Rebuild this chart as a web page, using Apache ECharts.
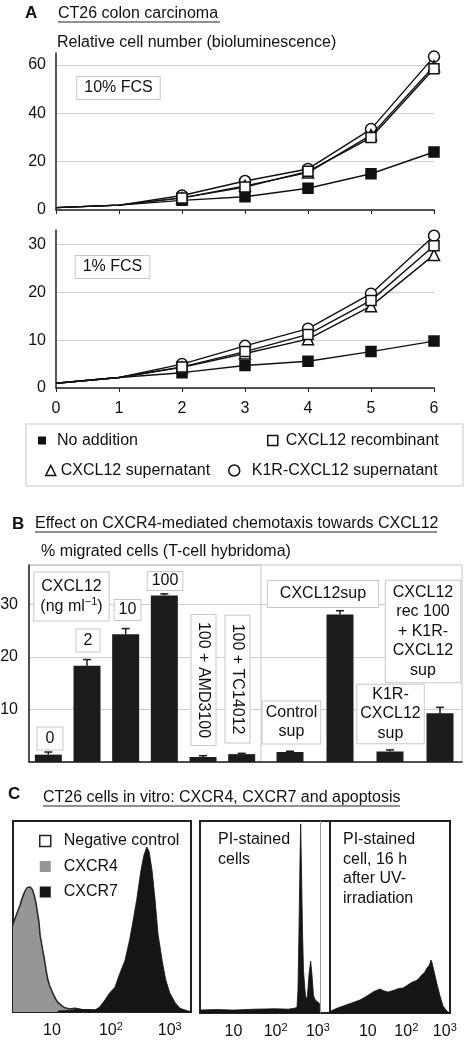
<!DOCTYPE html>
<html><head><meta charset="utf-8">
<script src="https://cdn.jsdelivr.net/npm/echarts@6/dist/echarts.min.js"></script>
<style>html,body{margin:0;padding:0;background:#fff}#c{width:470px;height:1040px}</style>
</head><body><div id="c"></div>
<script>
// ---------- DATA ----------
const days = [0, 1, 2, 3, 4, 5, 6];
// Panel A, 10% FCS
const fcs10NoAddition = [1, 2, 4, 5.5, 9, 15, 24];
const fcs10Recombinant = [1, 2, 5, 9.5, 16, 30, 58.5];
const fcs10Supernatant = [1, 2, 5, 10, 15.5, 31, 59.5];
const fcs10K1R = [1, 2, 6, 12, 17, 33.5, 63.5];
// Panel A, 1% FCS
const fcs1NoAddition = [1, 2.2, 3.2, 4.7, 5.6, 7.6, 9.8];
const fcs1Recombinant = [1, 2.2, 4.4, 7.6, 11.2, 18.3, 29.7];
const fcs1Supernatant = [1, 2.2, 4.3, 7.2, 10.2, 17.1, 27.8];
const fcs1K1R = [1, 2.2, 5, 8.8, 12.4, 19.7, 31.8];
const seriesNames = ['No addition', 'CXCL12 recombinant', 'CXCL12 supernatant', 'K1R-CXCL12 supernatant'];

// Panel B
const bLeftCats = ['0', '2', '10', '100', '100 + AMD3100', '100 + TC14012'];
const bLeftValues = [1.4, 18.3, 24.3, 31.7, 0.95, 1.5];
const bLeftErr = [0.5, 1.2, 1.1, 0.3, 0.25, 0.15];
const bRightCats = ['Control sup', 'CXCL12sup', 'K1R-CXCL12 sup', 'CXCL12 rec 100 + K1R-CXCL12 sup'];
const bRightValues = [1.9, 28.1, 2.0, 9.3];
const bRightErr = [0.15, 0.7, 0.3, 1.1];

// Panel C (x = log10 fluorescence, y = relative count)
const negControl = [[0.34,46],[0.40,51],[0.46,56],[0.50,60],[0.54,63],[0.58,65],[0.63,65.5],[0.67,64],[0.70,61],[0.73,57],[0.75,53],[0.78,47],[0.80,40],[0.84,33],[0.87,28],[0.90,22],[0.93,17],[0.97,13],[1.02,9.5],[1.06,7],[1.10,5],[1.16,3.5],[1.22,2.2],[1.30,1.6],[1.39,2],[1.50,1.3],[1.65,1.2],[1.81,0.8],[2.0,0.5],[2.3,0.2]];
const cxcr4 = [[0.34,44.5],[0.40,50],[0.46,55],[0.50,59],[0.54,62],[0.58,64],[0.63,65],[0.67,63],[0.70,60],[0.73,56],[0.75,52],[0.78,45],[0.80,38],[0.84,31],[0.87,27],[0.90,21],[0.93,16],[0.97,12],[1.02,9],[1.06,7],[1.10,5],[1.16,3.5],[1.22,2],[1.30,1.5],[1.39,1.8],[1.50,1.2],[1.65,1],[1.81,0.5],[2.0,0.2],[2.3,0]];
const cxcr7 = [[1.10,0.5],[1.30,0.8],[1.45,1.5],[1.55,1],[1.73,1],[1.81,2.6],[1.90,6.3],[1.98,10],[2.07,13],[2.15,20],[2.24,27],[2.32,38],[2.39,50],[2.44,59],[2.51,74],[2.56,82],[2.61,86.4],[2.65,84],[2.70,74],[2.75,59],[2.80,41],[2.87,27],[2.93,17],[3.00,10],[3.09,5],[3.17,2],[3.31,0.5],[3.36,0.3]];
const piCells = [[0.21,1.5],[0.6,1.8],[1.0,1.5],[1.5,2],[2.0,2.2],[2.3,2],[2.45,2.5],[2.506,3],[2.529,12],[2.553,43],[2.577,80],[2.593,98.5],[2.612,75],[2.636,43],[2.660,22],[2.695,12],[2.719,7],[2.754,9],[2.790,20],[2.830,27],[2.861,20],[2.897,9],[2.932,7],[2.980,6],[3.039,5],[3.048,4],[3.05,0]];
const piGate = 3.05;
const piUV = [[0.02,0.8],[0.07,1.5],[0.2,2.5],[0.356,3.6],[0.55,5],[0.797,6.8],[0.95,8.5],[1.135,10.9],[1.25,12],[1.317,12.5],[1.42,11.5],[1.525,10.9],[1.62,11.5],[1.706,12],[1.80,12.8],[1.914,13],[2.03,14.5],[2.148,16],[2.278,17],[2.35,18.5],[2.408,20],[2.47,21],[2.538,23.4],[2.60,25],[2.642,27.6],[2.67,26],[2.694,25],[2.74,20],[2.790,15.6],[2.875,8.9],[2.953,3.6],[3.031,1.6],[3.083,0.5],[3.135,0.2]];
const cTickValues = [1, 2, 3];
const cTickLabels = ['10', '10{sup|2}', '10{sup|3}'];

// ---------- CHART ----------
const FONT = '"Liberation Sans", Arial, Helvetica, sans-serif';
const INK = '#111';
const chart = echarts.init(document.getElementById('c'), null, {renderer: 'canvas'});

function fnt(size, bold) { return (bold ? 'bold ' : '') + size + 'px ' + FONT; }

const markerStyles = [
  {symbol: 'rect', size: 10, fill: INK},
  {symbol: 'rect', size: 10, fill: '#fff'},
  {symbol: 'triangle', size: 11, fill: '#fff'},
  {symbol: 'circle', size: 11, fill: '#fff'}
];
function growthSeries(idx, values, grid, z) {
  const m = markerStyles[idx];
  return {
    type: 'line', name: seriesNames[idx], xAxisIndex: grid, yAxisIndex: grid, z: z,
    data: days.map((d, i) => i < 2 ? {value: [d, values[i]], symbol: 'none'} : [d, values[i]]),
    symbol: m.symbol, symbolSize: m.size, showSymbol: true,
    itemStyle: {color: m.fill, borderColor: INK, borderWidth: 1.5},
    lineStyle: {color: INK, width: 1.4},
    emphasis: {disabled: true}, animation: false
  };
}

function errRender(params, api) {
  const i = api.value(0), v = api.value(1), e = api.value(2);
  const p0 = api.coord([i, v]);
  const p1 = api.coord([i, v + e]);
  return {type: 'group', children: [
    {type: 'line', shape: {x1: p0[0], y1: p0[1], x2: p1[0], y2: p1[1]}, style: {stroke: '#1a1a1a', lineWidth: 1.5}},
    {type: 'line', shape: {x1: p1[0] - 4, y1: p1[1], x2: p1[0] + 4, y2: p1[1]}, style: {stroke: '#1a1a1a', lineWidth: 1.5}}
  ]};
}

const gridBase = {outerBoundsMode: 'none', containLabel: false};
const grids = [
  Object.assign({left: 56, top: 53, width: 378, height: 157}, gridBase),
  Object.assign({left: 56, top: 230, width: 378, height: 158}, gridBase),
  Object.assign({left: 29, top: 565, width: 433, height: 197, show: true, borderColor: '#c4c4c4', borderWidth: 1}, gridBase),
  Object.assign({left: 29, top: 565, width: 232, height: 197, show: true, borderColor: '#c4c4c4', borderWidth: 1}, gridBase),
  Object.assign({left: 265, top: 565, width: 200, height: 197}, gridBase),
  Object.assign({left: 13, top: 821, width: 178, height: 191, show: true, borderColor: '#222', borderWidth: 2}, gridBase),
  Object.assign({left: 200, top: 821, width: 130, height: 192, show: true, borderColor: '#222', borderWidth: 2}, gridBase),
  Object.assign({left: 330, top: 821, width: 120, height: 192, show: true, borderColor: '#222', borderWidth: 2}, gridBase)
];

const lbl = {color: INK, fontSize: 16, fontFamily: FONT};
const gridLine = {show: true, showMaxLine: false, lineStyle: {color: '#cfcfcf', width: 1}};

const xAxes = [
  {gridIndex: 0, type: 'value', min: 0, max: 6, interval: 1, axisLine: {lineStyle: {color: '#222', width: 1.5}},
   axisTick: {show: true, length: 4, lineStyle: {color: '#222'}}, axisLabel: {show: false}, splitLine: {show: false}},
  {gridIndex: 1, type: 'value', min: 0, max: 6, interval: 1, axisLine: {lineStyle: {color: '#222', width: 1.5}},
   axisTick: {show: true, length: 4, lineStyle: {color: '#222'}}, axisLabel: Object.assign({margin: 13}, lbl), splitLine: {show: false}},
  {gridIndex: 2, type: 'value', min: 0, max: 1, axisLine: {lineStyle: {color: '#222', width: 1.5}}, axisTick: {show: false}, axisLabel: {show: false}, splitLine: {show: false}},
  {gridIndex: 3, type: 'category', data: bLeftCats, show: false},
  {gridIndex: 4, type: 'category', data: bRightCats, show: false}
];
const cLabel = Object.assign({
  margin: 9, lineHeight: 20, customValues: cTickValues,
  formatter: v => cTickLabels[cTickValues.indexOf(v)],
  rich: {sup: {fontSize: 11, fontFamily: FONT, color: INK, verticalAlign: 'top', lineHeight: 10}}
}, lbl);
[[5, 0.34, 3.36], [6, 0.207, 3.288], [7, 0.018, 3.135]].forEach(([g, mn, mx]) => {
  xAxes.push({gridIndex: g, type: 'value', min: mn, max: mx, axisLine: {show: false}, axisTick: {show: false},
    splitLine: {show: false}, axisLabel: cLabel});
});

const yAxes = [
  {gridIndex: 0, type: 'value', min: 0, max: 65, interval: 20, axisLine: {show: true, lineStyle: {color: '#222', width: 1.5}},
   axisTick: {show: false}, axisLabel: Object.assign({margin: 10, showMaxLabel: false}, lbl), splitLine: gridLine},
  {gridIndex: 1, type: 'value', min: 0, max: 33, interval: 10, axisLine: {show: true, lineStyle: {color: '#222', width: 1.5}},
   axisTick: {show: false}, axisLabel: Object.assign({margin: 10, showMaxLabel: false, showMinLabel: true}, lbl), splitLine: gridLine},
  {gridIndex: 2, type: 'value', min: 0, max: 37.5, interval: 10, axisLine: {show: true, lineStyle: {color: '#222', width: 1.5}},
   axisTick: {show: false}, axisLabel: Object.assign({margin: 11, showMaxLabel: false, showMinLabel: false}, lbl), splitLine: gridLine},
  {gridIndex: 3, type: 'value', min: 0, max: 37.5, show: false, splitLine: {show: false}},
  {gridIndex: 4, type: 'value', min: 0, max: 37.5, show: false, splitLine: {show: false}},
  {gridIndex: 5, type: 'value', min: 0, max: 100, show: false, splitLine: {show: false}},
  {gridIndex: 6, type: 'value', min: 0, max: 100, show: false, splitLine: {show: false}},
  {gridIndex: 7, type: 'value', min: 0, max: 100, show: false, splitLine: {show: false}}
];

const series = [
  growthSeries(0, fcs10NoAddition, 0, 2),
  growthSeries(3, fcs10K1R, 0, 3),
  growthSeries(2, fcs10Supernatant, 0, 4),
  growthSeries(1, fcs10Recombinant, 0, 5),
  growthSeries(0, fcs1NoAddition, 1, 2),
  growthSeries(3, fcs1K1R, 1, 3),
  growthSeries(2, fcs1Supernatant, 1, 4),
  growthSeries(1, fcs1Recombinant, 1, 5),
  {type: 'bar', xAxisIndex: 3, yAxisIndex: 3, data: bLeftValues, barWidth: 27, itemStyle: {color: '#1c1c1c'}, animation: false, emphasis: {disabled: true}},
  {type: 'custom', xAxisIndex: 3, yAxisIndex: 3, data: bLeftValues.map((v, i) => [i, v, bLeftErr[i]]), renderItem: errRender, encode: {x: 0, y: 1}, z: 3, animation: false},
  {type: 'bar', xAxisIndex: 4, yAxisIndex: 4, data: bRightValues, barWidth: 27, itemStyle: {color: '#1c1c1c'}, animation: false, emphasis: {disabled: true}},
  {type: 'custom', xAxisIndex: 4, yAxisIndex: 4, data: bRightValues.map((v, i) => [i, v, bRightErr[i]]), renderItem: errRender, encode: {x: 0, y: 1}, z: 3, animation: false},
  {type: 'line', name: 'CXCR4', xAxisIndex: 5, yAxisIndex: 5, data: cxcr4, symbol: 'none', z: 2,
   lineStyle: {width: 0.5, color: '#8e8e8e'}, areaStyle: {color: '#969696', opacity: 1}, itemStyle: {color: '#969696'}, animation: false},
  {type: 'line', name: 'Negative control', xAxisIndex: 5, yAxisIndex: 5, data: negControl, symbol: 'none', z: 3,
   lineStyle: {width: 1.6, color: '#2a2a2a'}, itemStyle: {color: '#fff'}, animation: false},
  {type: 'line', name: 'CXCR7', xAxisIndex: 5, yAxisIndex: 5, data: cxcr7, symbol: 'none', z: 4,
   lineStyle: {width: 0.8, color: '#111'}, areaStyle: {color: '#151515', opacity: 1}, itemStyle: {color: '#151515'}, animation: false},
  {type: 'line', xAxisIndex: 6, yAxisIndex: 6, data: piCells, symbol: 'none', z: 3,
   lineStyle: {width: 0.8, color: '#111'}, areaStyle: {color: '#151515', opacity: 1}, animation: false,
   markLine: {silent: true, symbol: 'none', label: {show: false}, lineStyle: {color: '#9a9a9a', width: 1, type: 'solid'}, data: [{xAxis: piGate}], animation: false}},
  {type: 'line', xAxisIndex: 7, yAxisIndex: 7, data: piUV, symbol: 'none', z: 3,
   lineStyle: {width: 0.8, color: '#111'}, areaStyle: {color: '#151515', opacity: 1}, animation: false}
];

function legendOne(name, icon, style, left, top, iw, pad) {
  return {data: [{name: name, icon: icon, itemStyle: style}], left: left, top: top, padding: 0,
    itemWidth: iw, itemHeight: iw, selectedMode: false,
    textStyle: {color: INK, fontSize: 16, fontFamily: FONT, padding: [0, 0, 0, pad]}};
}
const legends = [
  legendOne('No addition', 'rect', {color: INK, borderWidth: 0}, 38, 432.5, 8, 6),
  legendOne('CXCL12 recombinant', 'rect', {color: '#fff', borderColor: INK, borderWidth: 1.5}, 267, 432.5, 10, 3),
  legendOne('CXCL12 supernatant', 'triangle', {color: '#fff', borderColor: INK, borderWidth: 1.5}, 45, 462.5, 10, 0),
  legendOne('K1R-CXCL12 supernatant', 'circle', {color: '#fff', borderColor: INK, borderWidth: 1.5}, 228, 462.5, 11, 7),
  {orient: 'vertical', left: 39, top: 833, padding: 0, itemGap: 9.5, itemWidth: 11, itemHeight: 11, selectedMode: false,
   data: [
     {name: 'Negative control', icon: 'rect', itemStyle: {color: '#fff', borderColor: '#222', borderWidth: 1.5}},
     {name: 'CXCR4', icon: 'rect', itemStyle: {color: '#969696', borderWidth: 0}},
     {name: 'CXCR7', icon: 'rect', itemStyle: {color: '#151515', borderWidth: 0}}
   ],
   textStyle: {color: INK, fontSize: 16, fontFamily: FONT, padding: [0, 0, 0, 8]}}
];

function txt(text, x, y, opts) {
  const o = opts || {};
  const st = {text: text, x: 0, y: 0, font: fnt(o.size || 16, o.bold), fill: INK,
    align: o.align || 'left', textAlign: o.align || 'left',
    verticalAlign: o.va || 'middle', textVerticalAlign: o.va || 'middle'};
  if (o.lh) st.lineHeight = o.lh;
  if (o.box) { st.backgroundColor = '#fff'; st.borderColor = '#c8c8c8'; st.borderWidth = 1; st.padding = o.pad || [2, 4]; }
  if (o.rich) st.rich = o.rich;
  const el = {type: 'text', x: x, y: y, style: st, z: 20, silent: true};
  if (o.rot) el.rotation = o.rot;
  return el;
}
function hline(x1, x2, y, color, w) {
  return {type: 'line', shape: {x1: x1, y1: y, x2: x2, y2: y}, style: {stroke: color || INK, lineWidth: w || 1}, z: 20, silent: true};
}
const supRich = {sup: {fontSize: 11, fontFamily: FONT, fill: INK, color: INK, verticalAlign: 'top', lineHeight: 10}};

const graphics = [
  // Panel A
  txt('A', 25, 13, {bold: true, size: 17}),
  txt('CT26 colon carcinoma', 58, 14),
  hline(58, 220, 22, '#222', 1),
  txt('Relative cell number (bioluminescence)', 57, 43),
  txt('10% FCS', 118.5, 88, {align: 'center', box: true, pad: [3, 7], lh: 16}),
  txt('1% FCS', 112.5, 267, {align: 'center', box: true, pad: [3, 7], lh: 16}),
  {type: 'rect', shape: {x: 26, y: 424, width: 437, height: 62}, style: {fill: 'none', stroke: '#c8c8c8', lineWidth: 1}, z: 1, silent: true},
  // Panel B
  txt('B', 12, 524, {bold: true, size: 17}),
  txt('Effect on CXCR4-mediated chemotaxis towards CXCL12', 35, 524),
  hline(35, 437, 532, '#222', 1),
  txt('% migrated cells (T-cell hybridoma)', 41, 552),
  txt('CXCL12\n(ng ml{sup|−1})', 71.5, 596.5, {align: 'center', box: true, pad: [4, 6], lh: 20, rich: supRich}),
  txt('0', 50, 738.5, {align: 'center', box: true, pad: [2, 8], lh: 18}),
  txt('2', 88, 640.5, {align: 'center', box: true, pad: [2, 7], lh: 18}),
  txt('10', 127.5, 610, {align: 'center', box: true, pad: [1, 4], lh: 18}),
  txt('100', 165, 581, {align: 'center', box: true, pad: [0, 4], lh: 18}),
  txt('100 + AMD3100', 203.5, 680, {align: 'center', box: true, pad: [3, 7], lh: 18, rot: -Math.PI / 2}),
  txt('100 + TC14012', 237.5, 679, {align: 'center', box: true, pad: [3, 8], lh: 18, rot: -Math.PI / 2}),
  txt('Control\nsup', 291.5, 722.5, {align: 'center', box: true, pad: [2, 3], lh: 19}),
  txt('CXCL12sup', 323, 594, {align: 'center', box: true, pad: [4, 12], lh: 18}),
  txt('CXCL12\nrec 100\n+ K1R-\nCXCL12\nsup', 423, 631.5, {align: 'center', box: true, pad: [2, 7], lh: 19.5}),
  txt('K1R-\nCXCL12\nsup', 390.5, 714, {align: 'center', box: true, pad: [0, 3], lh: 19.5}),
  // Panel C
  txt('C', 8, 794, {bold: true, size: 17}),
  txt('CT26 cells in vitro: CXCR4, CXCR7 and apoptosis', 43, 798),
  hline(43, 400, 806, '#222', 1),
  txt('PI-stained\ncells', 218, 830, {va: 'top', lh: 20}),
  txt('PI-stained\ncell, 16 h\nafter UV-\nirradiation', 343, 830, {va: 'top', lh: 19.5})
];

chart.setOption({
  backgroundColor: '#fff',
  animation: false,
  textStyle: {fontFamily: FONT, color: INK},
  grid: grids,
  xAxis: xAxes,
  yAxis: yAxes,
  legend: legends,
  series: series,
  graphic: {elements: graphics}
});
</script></body></html>
